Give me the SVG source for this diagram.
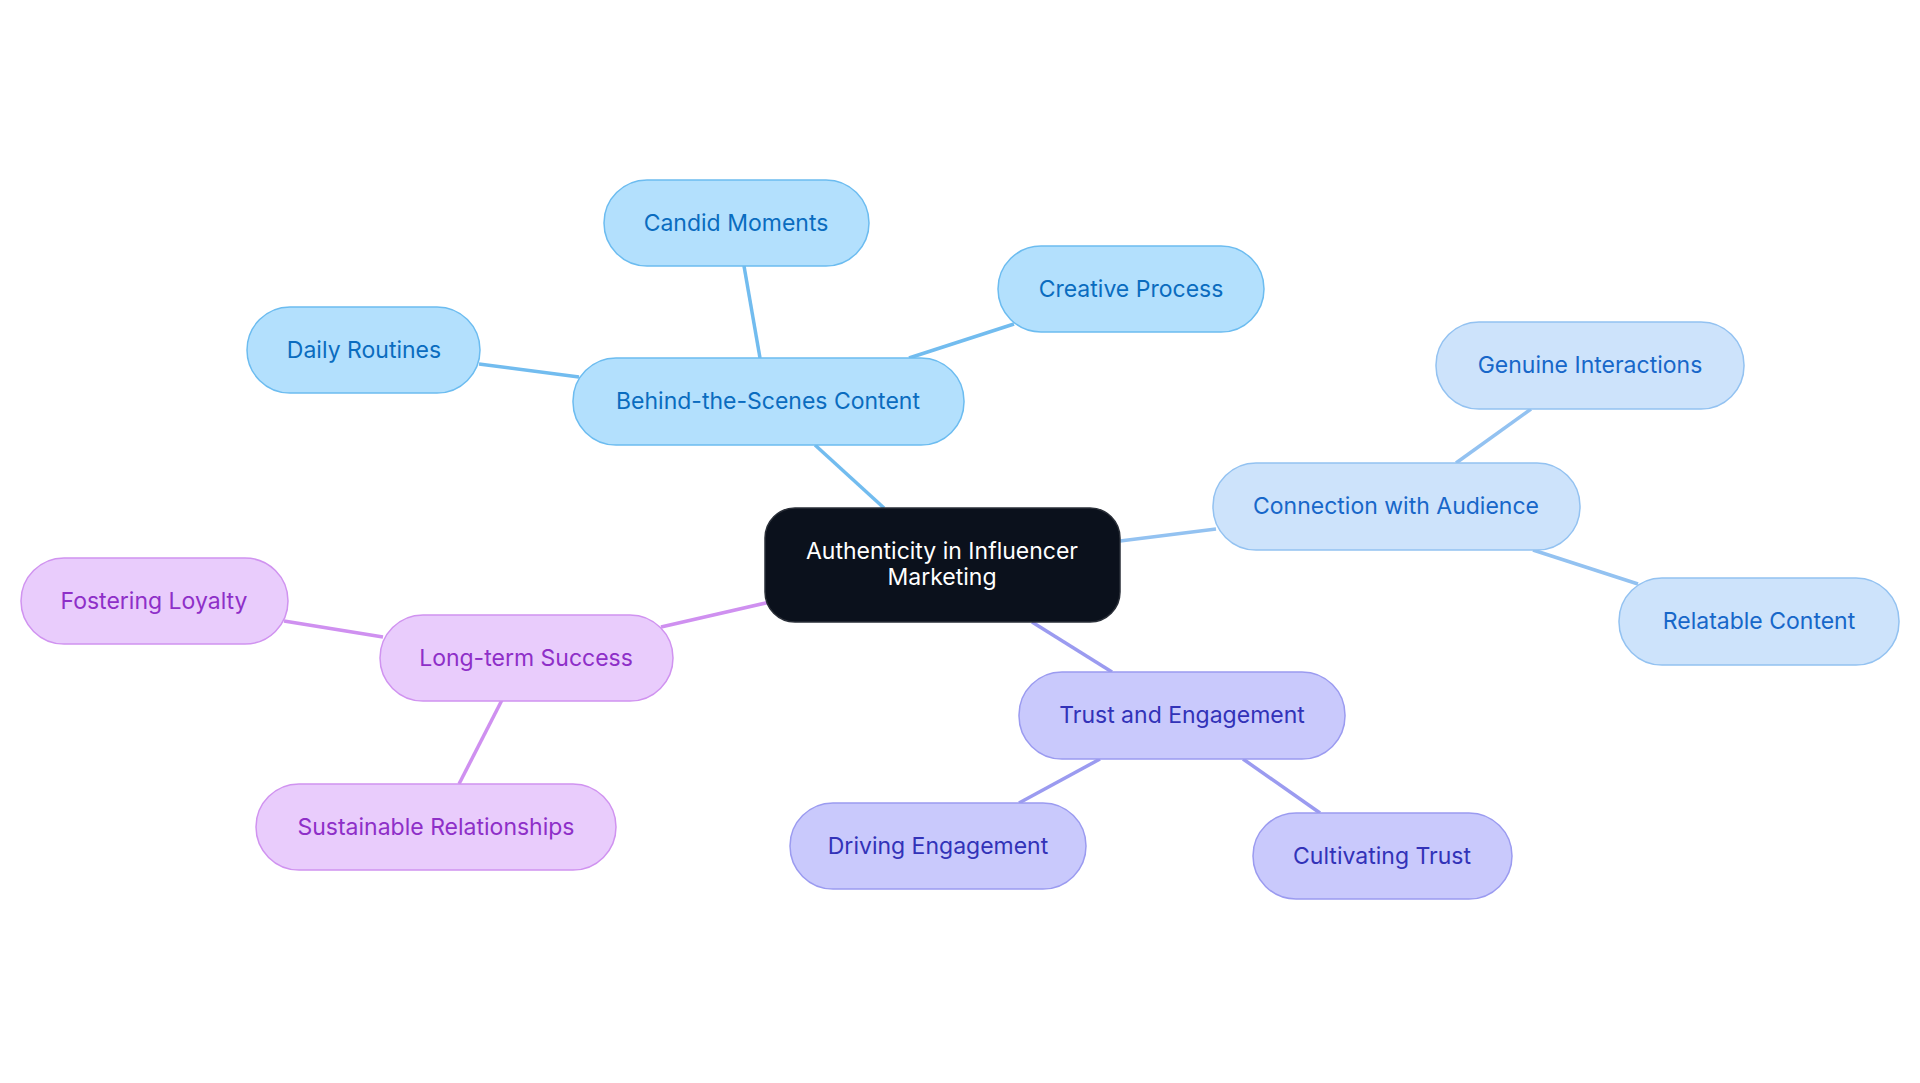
<svg xmlns="http://www.w3.org/2000/svg" width="1920" height="1083" viewBox="0 0 1920 1083">
<style>
text{font-family:Inter,"Noto Sans",sans-serif;font-size:23px;text-anchor:middle;dominant-baseline:central}
.a rect{fill:#b3e0fd;stroke:#6cbcf0;stroke-width:1.5}.a text{fill:#0a6cbf}
.b rect{fill:#cde3fb;stroke:#93c2f1;stroke-width:1.5}.b text{fill:#1767c9}
.c rect{fill:#c9c9fc;stroke:#9b9bf0;stroke-width:1.5}.c text{fill:#3232b8}
.d rect{fill:#e9ccfc;stroke:#d093f0;stroke-width:1.5}.d text{fill:#8e2fc8}
.ea{stroke:#72bcef}.eb{stroke:#93c2f1}.ec{stroke:#9b9bf0}.ed{stroke:#cf90f0}
#edges line{stroke-width:3.5}
</style>
<rect width="1920" height="1083" fill="#fff"/>
<g id="edges">
<line class="ea" x1="884" y1="508" x2="815" y2="445"/>
<line class="ea" x1="760" y1="358" x2="744" y2="266"/>
<line class="ea" x1="909" y1="358" x2="1014" y2="324"/>
<line class="ea" x1="579" y1="377" x2="479" y2="364"/>
<line class="eb" x1="1120" y1="541" x2="1216" y2="529"/>
<line class="eb" x1="1456" y1="463" x2="1531" y2="409"/>
<line class="eb" x1="1533" y1="550" x2="1638" y2="584"/>
<line class="ec" x1="1032" y1="622" x2="1112" y2="672"/>
<line class="ec" x1="1100" y1="759" x2="1019" y2="803"/>
<line class="ec" x1="1243" y1="759" x2="1320" y2="813"/>
<line class="ed" x1="770" y1="602" x2="661" y2="627"/>
<line class="ed" x1="383" y1="637" x2="284" y2="621"/>
<line class="ed" x1="502" y1="700" x2="459" y2="784"/>
</g>
<g id="center"><rect x="765" y="508" width="355" height="114" rx="30" fill="#0b111c" stroke="#2a2f38" stroke-width="1.5"/><text x="942" y="551" fill="#fff">Authenticity in Influencer</text><text x="942" y="577" fill="#fff">Marketing</text></g>
<g id="bts" class="a"><rect x="573" y="358" width="391" height="87" rx="43"/><text x="768" y="401">Behind-the-Scenes Content</text></g>
<g id="candid" class="a"><rect x="604" y="180" width="265" height="86" rx="43"/><text x="736" y="223">Candid Moments</text></g>
<g id="creative" class="a"><rect x="998" y="246" width="266" height="86" rx="43"/><text x="1131" y="289">Creative Process</text></g>
<g id="daily" class="a"><rect x="247" y="307" width="233" height="86" rx="43"/><text x="364" y="350">Daily Routines</text></g>
<g id="conn" class="b"><rect x="1213" y="463" width="367" height="87" rx="43"/><text x="1396" y="506">Connection with Audience</text></g>
<g id="genuine" class="b"><rect x="1436" y="322" width="308" height="87" rx="43"/><text x="1590" y="365">Genuine Interactions</text></g>
<g id="relatable" class="b"><rect x="1619" y="578" width="280" height="87" rx="43"/><text x="1759" y="621">Relatable Content</text></g>
<g id="trust" class="c"><rect x="1019" y="672" width="326" height="87" rx="43"/><text x="1182" y="715">Trust and Engagement</text></g>
<g id="driving" class="c"><rect x="790" y="803" width="296" height="86" rx="43"/><text x="938" y="846">Driving Engagement</text></g>
<g id="cultivating" class="c"><rect x="1253" y="813" width="259" height="86" rx="43"/><text x="1382" y="856">Cultivating Trust</text></g>
<g id="lts" class="d"><rect x="380" y="615" width="293" height="86" rx="43"/><text x="526" y="658">Long-term Success</text></g>
<g id="fostering" class="d"><rect x="21" y="558" width="267" height="86" rx="43"/><text x="154" y="601">Fostering Loyalty</text></g>
<g id="sustainable" class="d"><rect x="256" y="784" width="360" height="86" rx="43"/><text x="436" y="827">Sustainable Relationships</text></g>
</svg>
